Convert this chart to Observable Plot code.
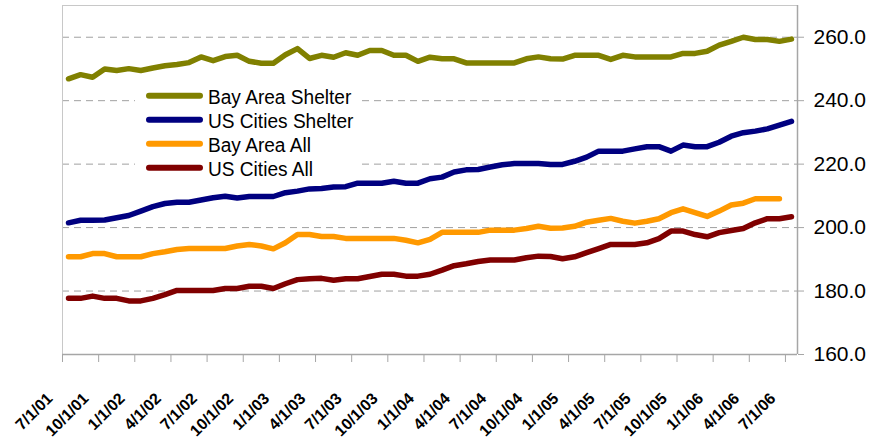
<!DOCTYPE html>
<html>
<head>
<meta charset="utf-8">
<script src="https://cdn.jsdelivr.net/npm/d3@7"></script>
<script src="https://cdn.jsdelivr.net/npm/@observablehq/plot@0.6"></script>
<style>
  body { margin: 0; background: #fff; font-family: "Liberation Sans", Arial, sans-serif; }
  #wrap { position: relative; width: 882px; height: 442px; }
  #legend { position: absolute; left: 135px; top: 82px; width: 226px; height: 98px; background: #fff; }
</style>
</head>
<body>
<div id="wrap"><div id="legend"></div></div>
<script>
// Quarterly labels shown under the monthly category axis (one every third month)
const tickLabels = ["7/1/01","10/1/01","1/1/02","4/1/02","7/1/02","10/1/02","1/1/03","4/1/03",
  "7/1/03","10/1/03","1/1/04","4/1/04","7/1/04","10/1/04","1/1/05","4/1/05","7/1/05",
  "10/1/05","1/1/06","4/1/06","7/1/06"];

// Monthly index values, July 2001 onward
const bayAreaShelter = [246.9,248.2,247.4,250.0,249.5,250.1,249.5,250.3,251.0,251.4,252.0,
  253.8,252.6,253.9,254.3,252.4,251.8,251.8,254.5,256.4,253.3,
  254.3,253.7,255.1,254.3,255.8,255.8,254.3,254.3,252.4,253.7,
  253.2,253.2,251.9,251.9,251.9,251.9,251.9,253.2,253.8,253.2,
  253.1,254.3,254.3,254.3,253.0,254.3,253.8,253.8,253.8,253.8,
  254.9,254.9,255.6,257.5,258.7,260.0,259.3,259.3,258.7,259.4];

const usCitiesShelter = [201.5,202.3,202.3,202.4,203.1,203.8,205.2,206.6,207.6,208.0,208.0,
  208.7,209.4,209.9,209.3,209.8,209.8,209.8,211.0,211.5,212.2,
  212.3,212.8,212.9,214.0,214.0,214.0,214.6,214.0,214.0,215.4,
  215.9,217.5,218.2,218.3,219.1,219.8,220.2,220.2,220.2,219.9,
  219.9,220.9,222.2,224.1,224.1,224.1,224.8,225.5,225.5,224.1,
  226.0,225.5,225.5,226.9,228.8,229.9,230.4,231.1,232.3,233.5];

const bayAreaAll = [190.8,190.8,191.8,191.8,190.8,190.8,190.8,191.8,192.4,193.1,193.4,
  193.4,193.4,193.4,194.2,194.7,194.2,193.3,195.2,197.8,197.8,
  197.2,197.2,196.6,196.6,196.6,196.6,196.6,196.0,195.2,196.3,
  198.5,198.5,198.5,198.5,199.2,199.2,199.2,199.7,200.4,199.8,
  199.9,200.4,201.7,202.3,202.9,202.0,201.4,202.0,202.8,204.7,
  205.9,204.7,203.5,205.2,207.1,207.7,209.1,209.1,209.1];

const usCitiesAll = [177.7,177.7,178.4,177.7,177.7,176.9,176.9,177.7,178.9,180.2,180.2,
  180.2,180.2,180.8,180.8,181.5,181.5,180.8,182.3,183.6,183.9,
  184.0,183.4,183.9,183.9,184.6,185.3,185.3,184.7,184.7,185.3,
  186.6,188.0,188.6,189.3,189.8,189.8,189.8,190.5,191.0,190.9,
  190.2,190.8,192.1,193.4,194.7,194.7,194.7,195.2,196.5,198.9,
  198.9,197.8,197.1,198.4,199.1,199.7,201.5,202.8,202.8,203.4];

const seriesNames = ["Bay Area Shelter", "US Cities Shelter", "Bay Area All", "US Cities All"];
const seriesColors = ["#808000", "#000080", "#ff9900", "#800000"];
const yTicks = [160, 180, 200, 220, 240, 260];

const seriesValues = [bayAreaShelter, usCitiesShelter, bayAreaAll, usCitiesAll];
const months = d3.range(d3.max(seriesValues, s => s.length));
const labelRows = tickLabels.map((label, k) => ({month: k * 3, label}));
const quarterEdges = tickLabels.map((_, k) => k * 3 - 0.5);

const axisGray = "#a6a6a6";
const lineMarks = seriesValues.map((vals, s) =>
  Plot.line(vals.map((v, i) => ({month: i, value: v})), {
    x: "month", y: "value", stroke: seriesColors[s], strokeWidth: 5.5,
    strokeLinejoin: "round", strokeLinecap: "round"
  })
);

const chart = Plot.plot({
  width: 882,
  height: 442,
  marginLeft: 62,
  marginRight: 85,
  marginTop: 5,
  marginBottom: 88,
  style: {fontFamily: '"Liberation Sans", Arial, sans-serif', background: "#fff", color: "#000"},
  x: {domain: [-0.5, months.length - 0.5], label: null},
  y: {domain: [160, 270], label: null},
  marks: [
    Plot.ruleY(yTicks.slice(1), {stroke: "#a0a0a0", strokeDasharray: "7,5"}),
    Plot.ruleY([270], {stroke: "#c8c8c8"}),
    Plot.ruleX([-0.5], {stroke: "#c8c8c8"}),
    ...lineMarks,
    Plot.ruleY([160], {stroke: axisGray, strokeWidth: 1.5}),
    Plot.ruleX([months.length - 0.5], {stroke: axisGray, strokeWidth: 1.5}),
    Plot.axisX({ticks: quarterEdges, tickSize: 8, tickFormat: () => "", stroke: axisGray, label: null}),
    Plot.axisY({anchor: "right", ticks: yTicks, tickSize: 6, tickPadding: 10, label: null,
      tickFormat: d => d.toFixed(1), stroke: axisGray, fill: "#000", fontSize: 21}),
    Plot.text(labelRows, {
      x: "month", text: "label", frameAnchor: "bottom", rotate: -45,
      textAnchor: "end", dx: -15, dy: 45, fontWeight: "bold", fontSize: 16, fill: "#000"
    })
  ]
});
document.getElementById("wrap").prepend(chart);

// Legend panel drawn over the upper-left of the plot area
const leg = d3.select("#legend").append("svg").attr("width", 226).attr("height", 98);
seriesNames.forEach((name, s) => {
  const cy = 13.7 + s * 24;
  leg.append("line").attr("x1", 14).attr("x2", 65).attr("y1", cy).attr("y2", cy)
    .attr("stroke", seriesColors[s]).attr("stroke-width", 6).attr("stroke-linecap", "round");
  leg.append("text").attr("transform", `translate(73,${cy + 8}) scale(0.91,1)`)
    .attr("font-size", 21).attr("fill", "#000").text(name);
});
</script>
</body>
</html>
